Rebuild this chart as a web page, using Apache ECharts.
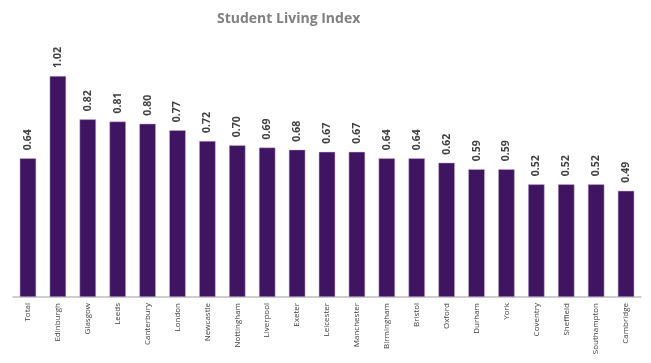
<!DOCTYPE html>
<html><head><meta charset="utf-8">
<script src="https://cdn.jsdelivr.net/npm/echarts@6/dist/echarts.min.js"></script>
<style>html,body{margin:0;padding:0;background:#fff}#c{width:651px;height:363px}</style>
</head><body><div id="c"></div>
<script>
const categories = ["Total","Edinburgh","Glasgow","Leeds","Canterbury","London","Newcastle","Nottingham","Liverpool","Exeter","Leicester","Manchester","Birmingham","Bristol","Oxford","Durham","York","Coventry","Sheffield","Southampton","Cambridge"];
const values = [0.64,1.02,0.82,0.81,0.80,0.77,0.72,0.70,0.69,0.68,0.67,0.67,0.64,0.64,0.62,0.59,0.59,0.52,0.52,0.52,0.49];
const chart = echarts.init(document.getElementById('c'));
chart.setOption({
  animation:false,
  title:{text:'Student Living Index',left:212,top:7,textStyle:{fontFamily:'Open Sans',fontSize:14,fontWeight:'bold',color:'#808080'}},
  grid:{left:13,right:10,top:37,bottom:66},
  xAxis:{type:'category',data:categories,
    axisLine:{lineStyle:{color:'#bfbfbf',width:1.5}},axisTick:{show:false},
    axisLabel:{rotate:90,interval:0,fontFamily:'Open Sans',fontSize:8,color:'#404040',margin:6}},
  yAxis:{type:'value',min:0,max:1.2,show:false,splitLine:{show:false}},
  series:[{type:'bar',data:values,barWidth:'55%',
    itemStyle:{color:'#3f1461',borderColor:'#c9b8d9',borderWidth:0.5},
    label:{show:true,position:'top',rotate:90,align:'left',verticalAlign:'middle',distance:8,
      formatter:p=>p.value.toFixed(2),fontFamily:'Open Sans',fontSize:10.5,fontWeight:'bold',color:'#404040'}}]
});
</script></body></html>
